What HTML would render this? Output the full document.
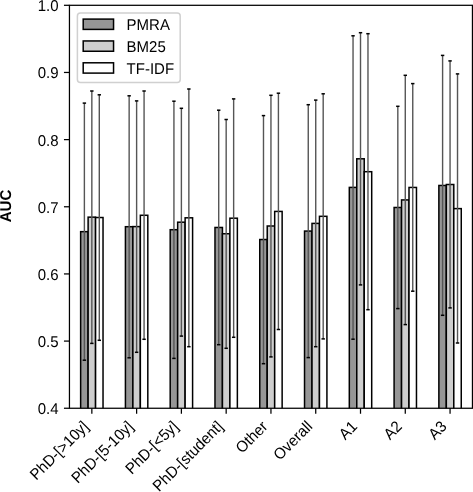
<!DOCTYPE html>
<html><head><meta charset="utf-8"><style>
html,body{margin:0;padding:0;background:#fff;}
body{width:473px;height:492px;overflow:hidden;}
svg{display:block;font-family:"Liberation Sans", sans-serif;text-rendering:geometricPrecision;filter:grayscale(1);}
</style></head><body>
<svg width="473" height="492" viewBox="0 0 473 492">
<rect width="473" height="492" fill="#fff"/>
<defs><clipPath id="ax"><rect x="69.45" y="5.30" width="403.00" height="402.95"/></clipPath></defs>
<g clip-path="url(#ax)">
<rect x="80.64" y="231.67" width="7.46" height="181.58" fill="#969696" stroke="#000" stroke-width="1.5"/>
<rect x="88.11" y="217.15" width="7.46" height="196.10" fill="#cecece" stroke="#000" stroke-width="1.5"/>
<rect x="95.57" y="217.53" width="7.46" height="195.72" fill="#ffffff" stroke="#000" stroke-width="1.5"/>
<rect x="125.42" y="226.70" width="7.46" height="186.55" fill="#969696" stroke="#000" stroke-width="1.5"/>
<rect x="132.89" y="226.60" width="7.46" height="186.65" fill="#cecece" stroke="#000" stroke-width="1.5"/>
<rect x="140.35" y="215.28" width="7.46" height="197.97" fill="#ffffff" stroke="#000" stroke-width="1.5"/>
<rect x="170.20" y="229.70" width="7.46" height="183.55" fill="#969696" stroke="#000" stroke-width="1.5"/>
<rect x="177.66" y="222.20" width="7.46" height="191.05" fill="#cecece" stroke="#000" stroke-width="1.5"/>
<rect x="185.13" y="217.82" width="7.46" height="195.43" fill="#ffffff" stroke="#000" stroke-width="1.5"/>
<rect x="214.98" y="227.47" width="7.46" height="185.78" fill="#969696" stroke="#000" stroke-width="1.5"/>
<rect x="222.44" y="233.75" width="7.46" height="179.50" fill="#cecece" stroke="#000" stroke-width="1.5"/>
<rect x="229.90" y="218.20" width="7.46" height="195.05" fill="#ffffff" stroke="#000" stroke-width="1.5"/>
<rect x="259.76" y="239.52" width="7.46" height="173.73" fill="#969696" stroke="#000" stroke-width="1.5"/>
<rect x="267.22" y="226.00" width="7.46" height="187.25" fill="#cecece" stroke="#000" stroke-width="1.5"/>
<rect x="274.68" y="211.43" width="7.46" height="201.82" fill="#ffffff" stroke="#000" stroke-width="1.5"/>
<rect x="304.53" y="231.07" width="7.46" height="182.18" fill="#969696" stroke="#000" stroke-width="1.5"/>
<rect x="312.00" y="223.40" width="7.46" height="189.85" fill="#cecece" stroke="#000" stroke-width="1.5"/>
<rect x="319.46" y="216.32" width="7.46" height="196.93" fill="#ffffff" stroke="#000" stroke-width="1.5"/>
<rect x="349.31" y="187.40" width="7.46" height="225.85" fill="#969696" stroke="#000" stroke-width="1.5"/>
<rect x="356.77" y="158.80" width="7.46" height="254.45" fill="#cecece" stroke="#000" stroke-width="1.5"/>
<rect x="364.24" y="171.70" width="7.46" height="241.55" fill="#ffffff" stroke="#000" stroke-width="1.5"/>
<rect x="394.09" y="207.48" width="7.46" height="205.77" fill="#969696" stroke="#000" stroke-width="1.5"/>
<rect x="401.55" y="199.93" width="7.46" height="213.32" fill="#cecece" stroke="#000" stroke-width="1.5"/>
<rect x="409.01" y="187.45" width="7.46" height="225.80" fill="#ffffff" stroke="#000" stroke-width="1.5"/>
<rect x="438.87" y="185.47" width="7.46" height="227.78" fill="#969696" stroke="#000" stroke-width="1.5"/>
<rect x="446.33" y="184.50" width="7.46" height="228.75" fill="#cecece" stroke="#000" stroke-width="1.5"/>
<rect x="453.79" y="208.62" width="7.46" height="204.62" fill="#ffffff" stroke="#000" stroke-width="1.5"/>
</g>
<line x1="84.38" y1="103.10" x2="84.38" y2="360.20" stroke="#555555" stroke-width="1.4"/>
<line x1="82.68" y1="103.10" x2="86.08" y2="103.10" stroke="#000" stroke-width="1.5"/>
<line x1="82.68" y1="360.20" x2="86.08" y2="360.20" stroke="#000" stroke-width="1.5"/>
<line x1="91.84" y1="91.00" x2="91.84" y2="343.40" stroke="#555555" stroke-width="1.4"/>
<line x1="90.14" y1="91.00" x2="93.54" y2="91.00" stroke="#000" stroke-width="1.5"/>
<line x1="90.14" y1="343.40" x2="93.54" y2="343.40" stroke="#000" stroke-width="1.5"/>
<line x1="99.30" y1="94.80" x2="99.30" y2="340.30" stroke="#555555" stroke-width="1.4"/>
<line x1="97.60" y1="94.80" x2="101.00" y2="94.80" stroke="#000" stroke-width="1.5"/>
<line x1="97.60" y1="340.30" x2="101.00" y2="340.30" stroke="#000" stroke-width="1.5"/>
<line x1="129.15" y1="95.80" x2="129.15" y2="357.80" stroke="#555555" stroke-width="1.4"/>
<line x1="127.45" y1="95.80" x2="130.85" y2="95.80" stroke="#000" stroke-width="1.5"/>
<line x1="127.45" y1="357.80" x2="130.85" y2="357.80" stroke="#000" stroke-width="1.5"/>
<line x1="136.62" y1="100.90" x2="136.62" y2="352.30" stroke="#555555" stroke-width="1.4"/>
<line x1="134.92" y1="100.90" x2="138.32" y2="100.90" stroke="#000" stroke-width="1.5"/>
<line x1="134.92" y1="352.30" x2="138.32" y2="352.30" stroke="#000" stroke-width="1.5"/>
<line x1="144.08" y1="91.00" x2="144.08" y2="339.30" stroke="#555555" stroke-width="1.4"/>
<line x1="142.38" y1="91.00" x2="145.78" y2="91.00" stroke="#000" stroke-width="1.5"/>
<line x1="142.38" y1="339.30" x2="145.78" y2="339.30" stroke="#000" stroke-width="1.5"/>
<line x1="173.93" y1="101.20" x2="173.93" y2="358.40" stroke="#555555" stroke-width="1.4"/>
<line x1="172.23" y1="101.20" x2="175.63" y2="101.20" stroke="#000" stroke-width="1.5"/>
<line x1="172.23" y1="358.40" x2="175.63" y2="358.40" stroke="#000" stroke-width="1.5"/>
<line x1="181.39" y1="108.30" x2="181.39" y2="336.10" stroke="#555555" stroke-width="1.4"/>
<line x1="179.69" y1="108.30" x2="183.09" y2="108.30" stroke="#000" stroke-width="1.5"/>
<line x1="179.69" y1="336.10" x2="183.09" y2="336.10" stroke="#000" stroke-width="1.5"/>
<line x1="188.86" y1="89.00" x2="188.86" y2="346.70" stroke="#555555" stroke-width="1.4"/>
<line x1="187.16" y1="89.00" x2="190.56" y2="89.00" stroke="#000" stroke-width="1.5"/>
<line x1="187.16" y1="346.70" x2="190.56" y2="346.70" stroke="#000" stroke-width="1.5"/>
<line x1="218.71" y1="110.20" x2="218.71" y2="344.70" stroke="#555555" stroke-width="1.4"/>
<line x1="217.01" y1="110.20" x2="220.41" y2="110.20" stroke="#000" stroke-width="1.5"/>
<line x1="217.01" y1="344.70" x2="220.41" y2="344.70" stroke="#000" stroke-width="1.5"/>
<line x1="226.17" y1="119.50" x2="226.17" y2="348.30" stroke="#555555" stroke-width="1.4"/>
<line x1="224.47" y1="119.50" x2="227.87" y2="119.50" stroke="#000" stroke-width="1.5"/>
<line x1="224.47" y1="348.30" x2="227.87" y2="348.30" stroke="#000" stroke-width="1.5"/>
<line x1="233.64" y1="98.90" x2="233.64" y2="337.30" stroke="#555555" stroke-width="1.4"/>
<line x1="231.94" y1="98.90" x2="235.34" y2="98.90" stroke="#000" stroke-width="1.5"/>
<line x1="231.94" y1="337.30" x2="235.34" y2="337.30" stroke="#000" stroke-width="1.5"/>
<line x1="263.49" y1="115.60" x2="263.49" y2="363.70" stroke="#555555" stroke-width="1.4"/>
<line x1="261.79" y1="115.60" x2="265.19" y2="115.60" stroke="#000" stroke-width="1.5"/>
<line x1="261.79" y1="363.70" x2="265.19" y2="363.70" stroke="#000" stroke-width="1.5"/>
<line x1="270.95" y1="95.30" x2="270.95" y2="356.90" stroke="#555555" stroke-width="1.4"/>
<line x1="269.25" y1="95.30" x2="272.65" y2="95.30" stroke="#000" stroke-width="1.5"/>
<line x1="269.25" y1="356.90" x2="272.65" y2="356.90" stroke="#000" stroke-width="1.5"/>
<line x1="278.41" y1="93.20" x2="278.41" y2="329.50" stroke="#555555" stroke-width="1.4"/>
<line x1="276.71" y1="93.20" x2="280.11" y2="93.20" stroke="#000" stroke-width="1.5"/>
<line x1="276.71" y1="329.50" x2="280.11" y2="329.50" stroke="#000" stroke-width="1.5"/>
<line x1="308.26" y1="104.70" x2="308.26" y2="357.60" stroke="#555555" stroke-width="1.4"/>
<line x1="306.56" y1="104.70" x2="309.96" y2="104.70" stroke="#000" stroke-width="1.5"/>
<line x1="306.56" y1="357.60" x2="309.96" y2="357.60" stroke="#000" stroke-width="1.5"/>
<line x1="315.73" y1="100.10" x2="315.73" y2="346.70" stroke="#555555" stroke-width="1.4"/>
<line x1="314.03" y1="100.10" x2="317.43" y2="100.10" stroke="#000" stroke-width="1.5"/>
<line x1="314.03" y1="346.70" x2="317.43" y2="346.70" stroke="#000" stroke-width="1.5"/>
<line x1="323.19" y1="93.80" x2="323.19" y2="338.90" stroke="#555555" stroke-width="1.4"/>
<line x1="321.49" y1="93.80" x2="324.89" y2="93.80" stroke="#000" stroke-width="1.5"/>
<line x1="321.49" y1="338.90" x2="324.89" y2="338.90" stroke="#000" stroke-width="1.5"/>
<line x1="353.04" y1="35.80" x2="353.04" y2="339.20" stroke="#555555" stroke-width="1.4"/>
<line x1="351.34" y1="35.80" x2="354.74" y2="35.80" stroke="#000" stroke-width="1.5"/>
<line x1="351.34" y1="339.20" x2="354.74" y2="339.20" stroke="#000" stroke-width="1.5"/>
<line x1="360.51" y1="32.70" x2="360.51" y2="284.90" stroke="#555555" stroke-width="1.4"/>
<line x1="358.81" y1="32.70" x2="362.21" y2="32.70" stroke="#000" stroke-width="1.5"/>
<line x1="358.81" y1="284.90" x2="362.21" y2="284.90" stroke="#000" stroke-width="1.5"/>
<line x1="367.97" y1="33.70" x2="367.97" y2="309.70" stroke="#555555" stroke-width="1.4"/>
<line x1="366.27" y1="33.70" x2="369.67" y2="33.70" stroke="#000" stroke-width="1.5"/>
<line x1="366.27" y1="309.70" x2="369.67" y2="309.70" stroke="#000" stroke-width="1.5"/>
<line x1="397.82" y1="106.30" x2="397.82" y2="308.60" stroke="#555555" stroke-width="1.4"/>
<line x1="396.12" y1="106.30" x2="399.52" y2="106.30" stroke="#000" stroke-width="1.5"/>
<line x1="396.12" y1="308.60" x2="399.52" y2="308.60" stroke="#000" stroke-width="1.5"/>
<line x1="405.28" y1="75.30" x2="405.28" y2="324.60" stroke="#555555" stroke-width="1.4"/>
<line x1="403.58" y1="75.30" x2="406.98" y2="75.30" stroke="#000" stroke-width="1.5"/>
<line x1="403.58" y1="324.60" x2="406.98" y2="324.60" stroke="#000" stroke-width="1.5"/>
<line x1="412.75" y1="83.60" x2="412.75" y2="291.20" stroke="#555555" stroke-width="1.4"/>
<line x1="411.05" y1="83.60" x2="414.45" y2="83.60" stroke="#000" stroke-width="1.5"/>
<line x1="411.05" y1="291.20" x2="414.45" y2="291.20" stroke="#000" stroke-width="1.5"/>
<line x1="442.60" y1="55.40" x2="442.60" y2="315.30" stroke="#555555" stroke-width="1.4"/>
<line x1="440.90" y1="55.40" x2="444.30" y2="55.40" stroke="#000" stroke-width="1.5"/>
<line x1="440.90" y1="315.30" x2="444.30" y2="315.30" stroke="#000" stroke-width="1.5"/>
<line x1="450.06" y1="60.90" x2="450.06" y2="307.90" stroke="#555555" stroke-width="1.4"/>
<line x1="448.36" y1="60.90" x2="451.76" y2="60.90" stroke="#000" stroke-width="1.5"/>
<line x1="448.36" y1="307.90" x2="451.76" y2="307.90" stroke="#000" stroke-width="1.5"/>
<line x1="457.52" y1="73.90" x2="457.52" y2="343.00" stroke="#555555" stroke-width="1.4"/>
<line x1="455.82" y1="73.90" x2="459.22" y2="73.90" stroke="#000" stroke-width="1.5"/>
<line x1="455.82" y1="343.00" x2="459.22" y2="343.00" stroke="#000" stroke-width="1.5"/>
<rect x="69.45" y="5.30" width="403.00" height="402.95" fill="none" stroke="#000" stroke-width="1.25"/>
<line x1="63.95" y1="408.25" x2="69.45" y2="408.25" stroke="#000" stroke-width="1.25"/>
<text text-anchor="end" font-size="15" transform="translate(58.6 414.15) scale(1 1.045)">0.4</text>
<line x1="63.95" y1="341.09" x2="69.45" y2="341.09" stroke="#000" stroke-width="1.25"/>
<text text-anchor="end" font-size="15" transform="translate(58.6 346.99) scale(1 1.045)">0.5</text>
<line x1="63.95" y1="273.93" x2="69.45" y2="273.93" stroke="#000" stroke-width="1.25"/>
<text text-anchor="end" font-size="15" transform="translate(58.6 279.83) scale(1 1.045)">0.6</text>
<line x1="63.95" y1="206.77" x2="69.45" y2="206.77" stroke="#000" stroke-width="1.25"/>
<text text-anchor="end" font-size="15" transform="translate(58.6 212.67) scale(1 1.045)">0.7</text>
<line x1="63.95" y1="139.62" x2="69.45" y2="139.62" stroke="#000" stroke-width="1.25"/>
<text text-anchor="end" font-size="15" transform="translate(58.6 145.52) scale(1 1.045)">0.8</text>
<line x1="63.95" y1="72.46" x2="69.45" y2="72.46" stroke="#000" stroke-width="1.25"/>
<text text-anchor="end" font-size="15" transform="translate(58.6 78.36) scale(1 1.045)">0.9</text>
<line x1="63.95" y1="5.30" x2="69.45" y2="5.30" stroke="#000" stroke-width="1.25"/>
<text text-anchor="end" font-size="15" transform="translate(58.6 11.20) scale(1 1.045)">1.0</text>
<line x1="91.84" y1="408.25" x2="91.84" y2="413.75" stroke="#000" stroke-width="1.25"/>
<text text-anchor="end" font-size="15" transform="translate(89.54 427.45) rotate(-45) scale(1 1.045)">PhD-[&gt;10y]</text>
<line x1="136.62" y1="408.25" x2="136.62" y2="413.75" stroke="#000" stroke-width="1.25"/>
<text text-anchor="end" font-size="15" transform="translate(134.32 427.45) rotate(-45) scale(1 1.045)">PhD-[5-10y]</text>
<line x1="181.39" y1="408.25" x2="181.39" y2="413.75" stroke="#000" stroke-width="1.25"/>
<text text-anchor="end" font-size="15" transform="translate(179.09 427.45) rotate(-45) scale(1 1.045)">PhD-[&lt;5y]</text>
<line x1="226.17" y1="408.25" x2="226.17" y2="413.75" stroke="#000" stroke-width="1.25"/>
<text text-anchor="end" font-size="15" transform="translate(223.87 427.45) rotate(-45) scale(1 1.045)">PhD-[student]</text>
<line x1="270.95" y1="408.25" x2="270.95" y2="413.75" stroke="#000" stroke-width="1.25"/>
<text text-anchor="end" font-size="15" transform="translate(268.65 427.45) rotate(-45) scale(1 1.045)">Other</text>
<line x1="315.73" y1="408.25" x2="315.73" y2="413.75" stroke="#000" stroke-width="1.25"/>
<text text-anchor="end" font-size="15" transform="translate(313.43 427.45) rotate(-45) scale(1 1.045)">Overall</text>
<line x1="360.51" y1="408.25" x2="360.51" y2="413.75" stroke="#000" stroke-width="1.25"/>
<text text-anchor="end" font-size="15" transform="translate(358.21 427.45) rotate(-45) scale(1 1.045)">A1</text>
<line x1="405.28" y1="408.25" x2="405.28" y2="413.75" stroke="#000" stroke-width="1.25"/>
<text text-anchor="end" font-size="15" transform="translate(402.98 427.45) rotate(-45) scale(1 1.045)">A2</text>
<line x1="450.06" y1="408.25" x2="450.06" y2="413.75" stroke="#000" stroke-width="1.25"/>
<text text-anchor="end" font-size="15" transform="translate(447.76 427.45) rotate(-45) scale(1 1.045)">A3</text>
<text x="0" y="0" font-size="15" font-weight="bold" text-anchor="middle" transform="translate(11.3 206) rotate(-90) scale(1 1.045)">AUC</text>
<rect x="77.4" y="12.9" width="102.8" height="69.6" rx="3" ry="3" fill="#fff" stroke="#d0d0d0" stroke-width="1.5"/>
<rect x="83.2" y="19.10" width="30.35" height="10.3" fill="#969696" stroke="#000" stroke-width="1.5"/>
<text font-size="15" transform="translate(126.6 30.20) scale(1 1.045)">PMRA</text>
<rect x="83.2" y="40.95" width="30.35" height="10.3" fill="#cecece" stroke="#000" stroke-width="1.5"/>
<text font-size="15" transform="translate(126.6 52.00) scale(1 1.045)">BM25</text>
<rect x="83.2" y="62.80" width="30.35" height="10.3" fill="#ffffff" stroke="#000" stroke-width="1.5"/>
<text font-size="15" transform="translate(126.6 73.80) scale(1 1.045)">TF-IDF</text>
</svg>
</body></html>
